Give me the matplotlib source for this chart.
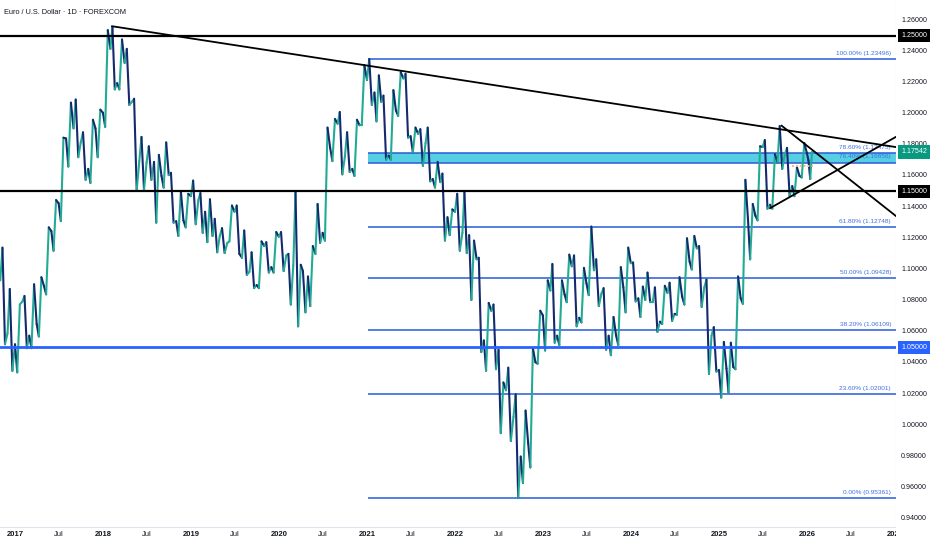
import numpy as np
import pandas as pd
import matplotlib
matplotlib.use("Agg")
import matplotlib.pyplot as plt
import matplotlib.dates as mdates
import matplotlib.transforms as mtransforms
from matplotlib import font_manager
from matplotlib.collections import LineCollection

# EUR/USD daily chart, read month by month: first swing, second swing, close
months = pd.date_range("2016-11-01", "2026-01-01", freq="MS")
last_day = pd.Timestamp("2026-01-22")
first_open = 1.0930
swing_a = [1.1140, 1.0875,
           1.0340, 1.0830, 1.0495, 1.0570, 1.0840, 1.1120, 1.1310, 1.1660, 1.2090, 1.1880, 1.1555, 1.1720,
           1.1915, 1.2555, 1.2155, 1.2415, 1.2095, 1.1850, 1.1790, 1.1300, 1.1525, 1.1620, 1.1215, 1.1270,
           1.1570, 1.1490, 1.1175, 1.1325, 1.1265, 1.1180, 1.1410, 1.1250, 1.1110, 1.0880, 1.1175, 1.0980,
           1.1240, 1.1100, 1.1495, 1.0990, 1.0765, 1.1420, 1.1185, 1.1695, 1.2010, 1.1880, 1.1600, 1.1925,
           1.2350, 1.1950, 1.2115, 1.1705, 1.1985, 1.2255, 1.1750, 1.1900, 1.1910, 1.1525, 1.1615, 1.1220,
           1.1485, 1.1495, 1.0805, 1.1075, 1.0350, 1.0775, 0.9950, 1.0370, 1.0200, 0.9630, 0.9730, 1.0395,
           1.0480, 1.1035, 1.0515, 1.0790, 1.1090, 1.0660, 1.0835, 1.1065, 1.0880, 1.0450, 1.0515, 1.0725,
           1.1045, 1.0695, 1.0980, 1.0885, 1.0650, 1.0915, 1.0710, 1.0775, 1.1000, 1.1150, 1.0935, 1.0630,
           1.0178, 1.0210, 1.0360, 1.0780, 1.1065, 1.1315, 1.1830, 1.1390, 1.1920, 1.1780, 1.1470, 1.1590,
           1.1700]
swing_b = [1.0520, 1.0350,
           1.0775, 1.0495, 1.0905, 1.0950, 1.1270, 1.1445, 1.1845, 1.2070, 1.1720, 1.1575, 1.1960, 1.2025,
           1.2535, 1.2155, 1.2475, 1.2055, 1.1510, 1.1510, 1.1575, 1.1735, 1.1815, 1.1300, 1.1500, 1.1485,
           1.1290, 1.1235, 1.1450, 1.1110, 1.1105, 1.1410, 1.1100, 1.0965, 1.0880, 1.1180, 1.0980, 1.1240,
           1.0990, 1.0775, 1.0635, 1.0725, 1.1150, 1.1170, 1.1910, 1.1965, 1.1610, 1.1625, 1.1960, 1.2310,
           1.2055, 1.2245, 1.1705, 1.2150, 1.2265, 1.1845, 1.1910, 1.1665, 1.1565, 1.1690, 1.1185, 1.1385,
           1.1120, 1.1105, 1.1185, 1.0470, 1.0785, 1.0360, 1.0275, 0.9900, 0.9535, 1.0095, 1.0495, 1.0735,
           1.0930, 1.0530, 1.0930, 1.1095, 1.0635, 1.1010, 1.1275, 1.0765, 1.0485, 1.0695, 1.1015, 1.1140,
           1.0795, 1.0890, 1.0790, 1.0600, 1.0895, 1.0670, 1.0950, 1.1200, 1.1215, 1.0760, 1.0330, 1.0345,
           1.0535, 1.0530, 1.0955, 1.1575, 1.1420, 1.1790, 1.1390, 1.1740, 1.1645, 1.1470, 1.1655, 1.1810,
           1.1580]
closes = [1.0590, 1.0520,
          1.0795, 1.0575, 1.0650, 1.0895, 1.1245, 1.1425, 1.1840, 1.1905, 1.1815, 1.1645, 1.1905, 1.2005,
          1.2415, 1.2195, 1.2325, 1.2075, 1.1695, 1.1685, 1.1690, 1.1600, 1.1605, 1.1310, 1.1315, 1.1470,
          1.1445, 1.1370, 1.1215, 1.1215, 1.1170, 1.1370, 1.1075, 1.0985, 1.0900, 1.1150, 1.1015, 1.1210,
          1.1090, 1.1025, 1.1030, 1.0955, 1.1100, 1.1235, 1.1780, 1.1935, 1.1720, 1.1645, 1.1925, 1.2215,
          1.2135, 1.2075, 1.1730, 1.2020, 1.2225, 1.1855, 1.1870, 1.1810, 1.1580, 1.1560, 1.1335, 1.1370,
          1.1235, 1.1220, 1.1065, 1.0545, 1.0735, 1.0485, 1.0225, 1.0055, 0.9800, 0.9885, 1.0405, 1.0705,
          1.0865, 1.0575, 1.0840, 1.1020, 1.0690, 1.0910, 1.0995, 1.0845, 1.0575, 1.0575, 1.0885, 1.1040,
          1.0815, 1.0805, 1.0790, 1.0665, 1.0850, 1.0715, 1.0825, 1.1050, 1.1135, 1.0885, 1.0575, 1.0355,
          1.0365, 1.0375, 1.0815, 1.1330, 1.1345, 1.1785, 1.1415, 1.1685, 1.1735, 1.1535, 1.1600, 1.1745,
          1.17542]

black_levels = [1.25, 1.15]
blue_level = 1.05
fib_start = "2021-01-06"
fib_low, fib_high = 0.95361, 1.23496
fib_ratios = [0.0, 0.236, 0.382, 0.5, 0.618, 0.764, 0.786, 1.0]
right_end = "2027-01-05"
trend_main = (["2018-02-08", right_end], [1.2560, 1.1785])
trend_down = (["2025-09-18", right_end], [1.1922, 1.1343])
trend_up = (["2025-08-01", right_end], [1.1393, 1.1850])
avg_line = (["2025-10-30", "2026-01-26"], [1.1664, 1.1664])
price_ticks = np.round(np.arange(0.94, 1.2601, 0.02), 2)
last_price = 1.17542
title = "Euro / U.S. Dollar · 1D · FOREXCOM"

# fonts: the chart text is condensed
names = {f.name for f in font_manager.fontManager.ttflist}
if "Liberation Sans Narrow" in names:
    plt.rcParams["font.family"] = ["Liberation Sans Narrow", "DejaVu Sans"]
    k = 1.0
else:
    plt.rcParams["font.family"] = ["Liberation Sans", "DejaVu Sans"]
    k = 0.86

W, H = 932, 550
plot_right, plot_bottom = 896, 527


def price_at(py):
    return 1.26 - (py - 20) / 1559.0


t0 = mdates.date2num(pd.Timestamp("2017-01-01"))
day_px = 88 / 365.25
x_left = t0 - 15 / day_px
x_right = t0 + (plot_right - 15) / day_px

fig = plt.figure(figsize=(W / 100, H / 100), dpi=100)
ax = fig.add_axes([0, 1 - plot_bottom / H, plot_right / W, plot_bottom / H])
ax.set_xlim(x_left, x_right)
ax.set_ylim(price_at(plot_bottom), price_at(0))

# price path
tp = [mdates.date2num(months[0])]
pp = [first_open]
for i, m in enumerate(months):
    s = mdates.date2num(m)
    e = mdates.date2num(last_day if i == len(months) - 1 else months[i + 1])
    tp += [s + (e - s) * 0.3, s + (e - s) * 0.65, e]
    pp += [swing_a[i], swing_b[i], closes[i]]
pts = np.column_stack([tp, pp])
segs = np.stack([pts[:-1], pts[1:]], axis=1)
cols = ["#22ab94" if b >= a else "#14296e" for a, b in zip(pp[:-1], pp[1:])]
ax.add_collection(LineCollection(segs, colors=cols, linewidths=1.5, zorder=3,
                                 capstyle="round", joinstyle="round"))

# fibonacci retracement
fs = mdates.date2num(pd.Timestamp(fib_start))
fib_prices = [fib_low + r * (fib_high - fib_low) for r in fib_ratios]
ax.fill_between([fs, x_right], fib_prices[5], fib_prices[6], color="#56cfe3", lw=0, zorder=1)
ax.hlines(fib_prices, fs, x_right, color="#2a5bd7", lw=1.1, zorder=2)
for r, p in zip(fib_ratios, fib_prices):
    ax.annotate(f"{r * 100:.2f}% ({p:.5f})", (891 / plot_right, p),
                xycoords=("axes fraction", "data"), xytext=(0, 2.2),
                textcoords="offset points", ha="right", va="bottom",
                fontsize=5.4 * k, color="#3f6fe0", zorder=2)

# horizontal levels
ax.axhline(blue_level, color="#2962ff", lw=2.0, zorder=4)
for lv in black_levels:
    ax.axhline(lv, color="#000000", lw=1.6, zorder=4)

# trend lines
for d, p in [trend_main, trend_down, trend_up]:
    ax.plot(mdates.date2num(pd.to_datetime(d)), p, color="black", lw=1.3, zorder=5)
ax.plot(mdates.date2num(pd.to_datetime(avg_line[0])), avg_line[1],
        color="#f7b98c", lw=1.4, ls=(0, (1, 1)), zorder=4)

# time axis
tick_dates, tick_labels = [], []
for y in range(2017, 2028):
    tick_dates.append(pd.Timestamp(f"{y}-01-01"))
    tick_labels.append(str(y))
    if y < 2027:
        tick_dates.append(pd.Timestamp(f"{y}-07-01"))
        tick_labels.append("Jul")
ax.set_xticks(mdates.date2num(tick_dates))
ax.set_xticklabels(tick_labels)
ax.tick_params(axis="x", length=0, pad=3.2, labelsize=6.4 * k, colors="#131722")
for lab in ax.get_xticklabels():
    if lab.get_text() != "Jul":
        lab.set_fontweight("bold")
ax.set_yticks([])
for side in ["top", "left"]:
    ax.spines[side].set_visible(False)
ax.spines["bottom"].set_color("#e0e3eb")
ax.spines["right"].set_color("#e0e3eb")

fig.text(4 / W, 1 - 13 / H, title, fontsize=6.2 * k, color="#131722", va="center")

# price scale
ax2 = fig.add_axes([plot_right / W, 0, 1 - plot_right / W, 1])
ax2.set_zorder(3)
ax2.set_facecolor("white")
ax2.set_ylim(price_at(H), price_at(0))
ax2.set_xlim(0, 1)
ax2.set_xticks([])
ax2.set_yticks([])
for side in ax2.spines:
    ax2.spines[side].set_visible(False)
tr = mtransforms.blended_transform_factory(ax2.transAxes, ax2.transData)
for v in price_ticks:
    ax2.text(0.5, v, f"{v:.5f}", transform=tr, ha="center", va="center",
             fontsize=6.0 * k, color="#131722")
boxes = [(1.25, "#000000"), (1.15, "#000000"), (blue_level, "#2962ff"), (last_price, "#089981")]
for v, c in boxes:
    ax2.text(0.5, v, f"{v:.5f}", transform=tr, ha="center", va="center",
             fontsize=6.0 * k, color="white", zorder=5,
             bbox=dict(boxstyle="square,pad=0.45", fc=c, ec="none"))

fig.savefig("out.png", dpi=100)
